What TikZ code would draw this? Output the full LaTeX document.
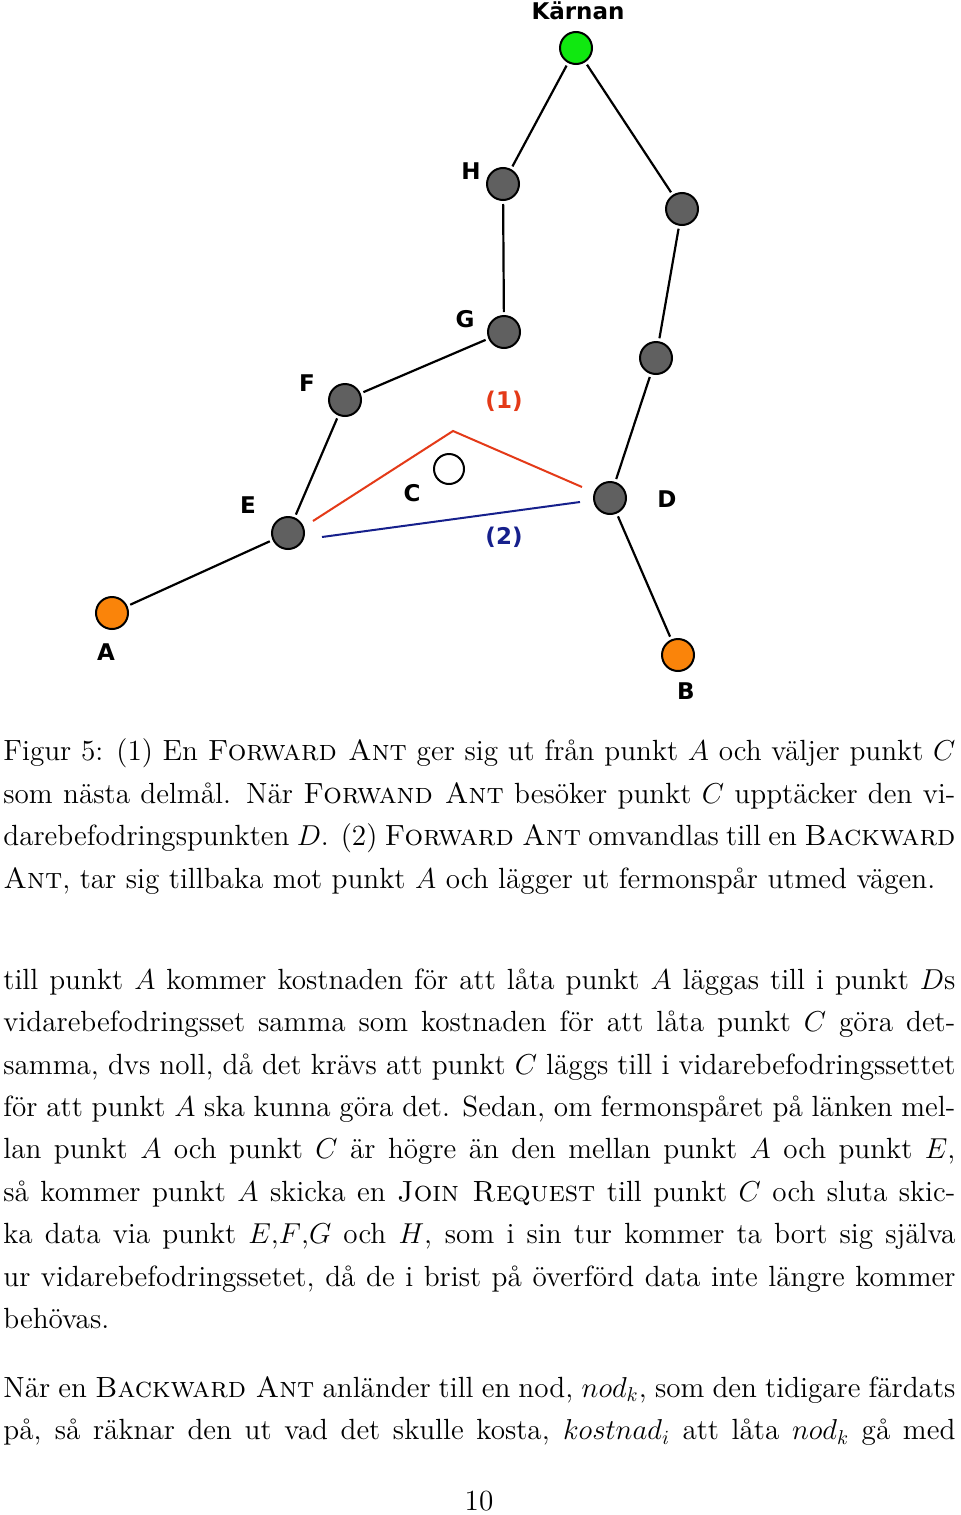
\documentclass[tikz,border=0pt]{standalone}
\usepackage{fontspec}
\newfontfamily\dejavu{DejaVu Sans}
\newcommand\bodyfont{\fontsize{14.6pt}{21pt}\selectfont}
\newcommand\labfont{\dejavu\bfseries\fontsize{11.5pt}{13pt}\selectfont}
\newcommand\fullline[1]{\makebox[476pt][s]{#1}}

\definecolor{nodegray}{RGB}{96,96,96}
\definecolor{coregreen}{RGB}{16,232,16}
\definecolor{antorange}{RGB}{250,132,10}
\definecolor{fwdred}{RGB}{228,58,24}
\definecolor{bwdblue}{RGB}{22,32,140}

\tikzset{
  pnode/.style={circle, draw, line width=1pt, minimum size=16pt, inner sep=0pt, fill=nodegray},
  lab/.style={font=\labfont, inner sep=0pt},
  edge/.style={line width=1.1pt, shorten <=1.5pt, shorten >=1.5pt},
  txt/.style={anchor=base west, inner sep=0pt, font=\bodyfont}
}

\begin{document}
\begin{tikzpicture}[x=0.5pt,y=-0.5pt]
    \useasboundingbox[fill=white] (0,0) rectangle (960,1515);

    % noder
    \node[pnode, fill=coregreen] (karnan) at (576, 48) {};
    \node[pnode] (h) at (503, 184) {};
    \node[pnode] (r1) at (682, 209) {};
    \node[pnode] (g) at (504, 332) {};
    \node[pnode] (r2) at (656, 358) {};
    \node[pnode] (f) at (345, 400) {};
    \node[pnode] (e) at (288, 533) {};
    \node[pnode] (d) at (610, 498) {};
    \node[pnode, fill=antorange] (a) at (112, 613) {};
    \node[pnode, fill=antorange] (b) at (678, 655) {};
    \node[circle, draw, line width=1pt, minimum size=15pt, inner sep=0pt, fill=white] (c) at (449, 469) {};

    \node[lab] (lkarnan) at (578, 11) {Kärnan};
    \node[lab] (lh) at (471, 171) {H};
    \node[lab] (lg) at (465, 319) {G};
    \node[lab] (lf) at (307, 383) {F};
    \node[lab] (le) at (248, 505) {E};
    \node[lab] (lc) at (412, 493) {C};
    \node[lab] (ld) at (667, 499) {D};
    \node[lab] (la) at (106, 652) {A};
    \node[lab] (lb) at (686, 691) {B};
    \node[lab, text=fwdred] (l1) at (504, 401) {(1)};
    \node[lab, text=bwdblue] (l2) at (504, 537) {(2)};

    \draw[edge] (karnan) -- (h);
    \draw[edge] (karnan) -- (r1);
    \draw[edge] (h) -- (g);
    \draw[edge] (r1) -- (r2);
    \draw[edge] (g) -- (f);
    \draw[edge] (f) -- (e);
    \draw[edge] (e) -- (a);
    \draw[edge] (r2) -- (d);
    \draw[edge] (d) -- (b);

    % forward / backward
    \coordinate (fstart) at (313, 521);
    \coordinate (ftop) at (453, 431);
    \coordinate (fend) at (582, 487);
    \coordinate (bstart) at (322, 537);
    \coordinate (bend) at (580, 502);
    \draw[fwdred, line width=1pt] (fstart) -- (ftop) -- (fend);
    \draw[bwdblue, line width=1pt] (bstart) -- (bend);

    % figurtext
    \node[txt] (cap1) at (3, 760.7) {\fullline{Figur 5: (1) En \textsc{Forward Ant} ger sig ut från punkt $A$ och väljer punkt $C$}};
    \node[txt] (cap2) at (3, 803.3) {\fullline{som nästa delmål. När \textsc{Forwand Ant} besöker punkt $C$ upptäcker den vi-}};
    \node[txt] (cap3) at (3, 845.8) {\fullline{darebefodringspunkten $D$. (2) \textsc{Forward Ant} omvandlas till en \textsc{Backward}}};
    \node[txt] (cap4) at (3, 888.3) {\textsc{Ant}, tar sig tillbaka mot punkt $A$ och lägger ut fermonspår utmed vägen.};

    % brödtext
    \node[txt] (p1) at (3, 989) {\fullline{till punkt $A$ kommer kostnaden för att låta punkt $A$ läggas till i punkt $D$s}};
    \node[txt] (p2) at (3, 1031.5) {\fullline{vidarebefodringsset samma som kostnaden för att låta punkt $C$ göra det-}};
    \node[txt] (p3) at (3, 1074) {\fullline{samma, dvs noll, då det krävs att punkt $C$ läggs till i vidarebefodringssettet}};
    \node[txt] (p4) at (3, 1116.4) {\fullline{för att punkt $A$ ska kunna göra det. Sedan, om fermonspåret på länken mel-}};
    \node[txt] (p5) at (3, 1158.8) {\fullline{lan punkt $A$ och punkt $C$ är högre än den mellan punkt $A$ och punkt $E$,}};
    \node[txt] (p6) at (3, 1201.2) {\fullline{så kommer punkt $A$ skicka en \textsc{Join Request} till punkt $C$ och sluta skic-}};
    \node[txt] (p7) at (3, 1243.6) {\fullline{ka data via punkt $E$,$F$,$G$ och $H$, som i sin tur kommer ta bort sig själva}};
    \node[txt] (p8) at (3, 1286) {\fullline{ur vidarebefodringssetet, då de i brist på överförd data inte längre kommer}};
    \node[txt] (p9) at (3, 1328.4) {behövas.};

    \node[txt] (q1) at (3, 1397.5) {\fullline{När en \textsc{Backward Ant} anländer till en nod, $nod_k$, som den tidigare färdats}};
    \node[txt] (q2) at (3, 1439.9) {\fullline{på, så räknar den ut vad det skulle kosta, $kostnad_i$ att låta $nod_k$ gå med}};

    \node[anchor=base, inner sep=0pt, font=\bodyfont] (pagenr) at (479, 1510) {10};
\end{tikzpicture}
\end{document}
